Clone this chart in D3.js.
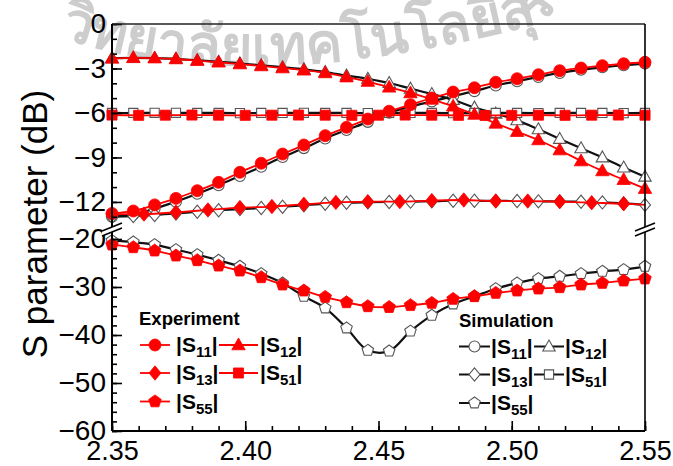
<!DOCTYPE html>
<html>
<head>
<meta charset="utf-8">
<script src="https://cdn.jsdelivr.net/npm/d3@7"></script>
<style>
  body { margin: 0; background: #fff; }
  svg { display: block; }
  text { font-family: "Liberation Sans", Arial, sans-serif; }
</style>
</head>
<body>
<svg id="chart" width="673" height="466"></svg>
<script>
// frequency grids (GHz) the markers sit on
const FREQ8 = d3.range(26).map(i => +(2.35 + i * 0.008).toFixed(3));
const FREQ10 = d3.range(21).map(i => +(2.35 + i * 0.01).toFixed(3));
const FREQ12 = d3.range(17).map(i => +(2.35 + i * 0.012).toFixed(3)).concat([2.55]);

// experiment (dB)
const expS11 = [-12.78, -12.61, -12.20, -11.76, -11.24, -10.68, -10.00, -9.39, -8.77, -8.16, -7.53, -6.97, -6.41,
  -5.88, -5.44, -4.99, -4.59, -4.30, -3.93, -3.69, -3.42, -3.15, -2.97, -2.81, -2.68, -2.58];
const expS12 = [-2.32, -2.28, -2.30, -2.36, -2.47, -2.58, -2.70, -2.83, -2.97, -3.12, -3.30, -3.58, -3.88,
  -4.27, -4.65, -5.08, -5.55, -6.10, -6.70, -7.26, -7.82, -8.50, -9.24, -9.91, -10.50, -11.10];
const expS13 = [-12.80, -12.82, -12.70, -12.54, -12.38, -12.31, -12.16, -12.03, -11.98, -11.98, -11.91, -11.87,
  -11.94, -11.94, -11.98, -12.05, -12.12, -12.20];
const expS51 = [-6.14, -6.16, -6.15, -6.14, -6.15, -6.16, -6.15, -6.14, -6.15, -6.16, -6.15, -6.14, -6.15,
  -6.16, -6.17, -6.16, -6.15, -6.16, -6.15, -6.14, -6.15];
const expS55 = [-21.18, -21.74, -22.43, -23.47, -24.44, -25.56, -26.60, -27.99, -29.51, -30.76, -32.08, -33.20,
  -34.03, -34.20, -33.80, -33.33, -32.50, -31.94, -31.25, -30.76, -30.35, -30.07, -29.51, -29.17, -28.68, -28.26];

// simulation (dB)
const simS11 = [-13.00, -12.85, -12.45, -11.98, -11.45, -10.87, -10.25, -9.63, -8.97, -8.37, -7.72, -7.15, -6.60,
  -5.98, -5.58, -5.22, -4.86, -4.53, -4.15, -3.86, -3.57, -3.30, -3.09, -2.92, -2.78, -2.67];
const simS12 = [-2.30, -2.28, -2.30, -2.35, -2.45, -2.55, -2.66, -2.78, -2.92, -3.06, -3.24, -3.48, -3.70,
  -3.98, -4.36, -4.72, -5.12, -5.64, -6.05, -6.50, -7.10, -7.75, -8.38, -9.00, -9.68, -10.30];
const simS13 = [-13.00, -12.95, -12.88, -12.78, -12.66, -12.56, -12.48, -12.41, -12.32, -12.22, -12.12, -12.05,
  -12.02, -12.00, -11.98, -11.95, -11.92, -11.92, -11.93, -11.94, -11.96, -11.97, -11.99, -12.03, -12.10, -12.20];
const simS51 = [-6.00, -6.00, -5.99, -5.99, -6.00, -6.00, -6.01, -6.00, -6.00, -5.99, -6.00, -6.00, -6.01,
  -6.00, -6.00, -6.00, -6.01, -6.00, -6.00, -6.00, -6.01, -6.00, -6.00, -6.00, -6.01, -6.00];
const simS55 = [-20.35, -20.63, -21.18, -22.22, -23.26, -24.44, -25.69, -27.22, -29.17, -31.94, -34.38, -38.54,
  -43.20, -43.35, -39.20, -35.90, -33.54, -31.94, -30.35, -29.17, -28.26, -27.78, -27.22, -26.74, -26.39, -25.69];

const X_TICKS = [2.35, 2.40, 2.45, 2.50, 2.55];
const Y_TICKS_TOP = [0, -3, -6, -9, -12];
const Y_TICKS_BOTTOM = [-20, -30, -40, -50, -60];

const RED = "#ff0000";

const svg = d3.select("#chart");
const plotLeft = 112, plotRight = 645, plotTop = 24, plotBottom = 431;
const breakY = 229.5;

const x = d3.scaleLinear().domain([2.35, 2.55]).range([plotLeft, plotRight]);
const yTop = d3.scaleLinear().domain([0, -13.69]).range([plotTop, breakY - 2.5]);
const yBot = d3.scaleLinear().domain([-18.54, -60]).range([breakY + 2.5, plotBottom]);

// watermark, set on a shallow arc like the seal text in the scan
svg.append("defs").append("path")
  .attr("id", "wm-arc")
  .attr("d", "M40,30 Q230,105 545,22 L620,-90");
svg.append("text")
  .attr("fill", "#cdcdcd")
  .style("font-size", "55px")
  .style("font-weight", "bold")
  .style("font-family", "'Noto Sans', 'DejaVu Sans', sans-serif")
  .append("textPath")
  .attr("href", "#wm-arc")
  .attr("startOffset", 20)
  .text("วิทยาลัยเทคโนโลยีสุรนารี");

// marker shapes, drawn around 0,0
function shapePath(shape, s) {
  if (shape === "circle") return d3.symbol(d3.symbolCircle, Math.PI * s * s)();
  if (shape === "square") return `M${-s * 0.9},${-s * 0.9}H${s * 0.9}V${s * 0.9}H${-s * 0.9}Z`;
  if (shape === "triangle") return `M0,${-s * 1.1}L${s * 1.05},${s * 0.75}L${-s * 1.05},${s * 0.75}Z`;
  if (shape === "diamond") return `M0,${-s * 1.2}L${s},0L0,${s * 1.2}L${-s},0Z`;
  const pts = d3.range(5).map(k => {
    const a = -Math.PI / 2 + k * 2 * Math.PI / 5;
    return [s * 1.1 * Math.cos(a), s * 1.1 * Math.sin(a)];
  });
  return "M" + pts.join("L") + "Z";
}

const series = [
  { kind: "sim", shape: "circle", seg: "top", freq: FREQ8, values: simS11 },
  { kind: "sim", shape: "triangle", seg: "top", freq: FREQ8, values: simS12 },
  { kind: "sim", shape: "diamond", seg: "top", freq: FREQ8, values: simS13 },
  { kind: "sim", shape: "square", seg: "top", freq: FREQ8, values: simS51 },
  { kind: "sim", shape: "pentagon", seg: "bot", freq: FREQ8, values: simS55 },
  { kind: "exp", shape: "circle", seg: "top", freq: FREQ8, values: expS11 },
  { kind: "exp", shape: "triangle", seg: "top", freq: FREQ8, values: expS12 },
  { kind: "exp", shape: "diamond", seg: "top", freq: FREQ12, values: expS13, marks: 17 },
  { kind: "exp", shape: "square", seg: "top", freq: FREQ10, values: expS51 },
  { kind: "exp", shape: "pentagon", seg: "bot", freq: FREQ8, values: expS55 }
];

const SIZE = { circle: 6, square: 5.6, triangle: 6.4, diamond: 6, pentagon: 6 };

function styleMarker(sel, kind) {
  if (kind === "exp") sel.attr("fill", RED).attr("stroke", RED).attr("stroke-width", 0.8);
  else sel.attr("fill", "#fff").attr("stroke", "#555").attr("stroke-width", 1.1);
}

const plot = svg.append("g");
series.forEach(s => {
  const y = s.seg === "top" ? yTop : yBot;
  const pts = s.freq.map((f, i) => [f, s.values[i]]);
  const line = d3.line().x(d => x(d[0])).y(d => y(d[1])).curve(d3.curveCatmullRom.alpha(0.5));
  const g = plot.append("g");
  g.append("path")
    .attr("d", line(pts))
    .attr("fill", "none")
    .attr("stroke", s.kind === "exp" ? RED : "#111")
    .attr("stroke-width", s.kind === "exp" ? 1.8 : 2.2);
  g.selectAll("path.m")
    .data(pts.slice(0, s.marks || pts.length))
    .join("path")
    .attr("class", "m")
    .attr("transform", d => `translate(${x(d[0])},${y(d[1])})`)
    .attr("d", shapePath(s.shape, s.kind === "sim" ? SIZE[s.shape] - 0.5 : SIZE[s.shape]))
    .call(styleMarker, s.kind);
});

// axes, ticks pointing inward
const axes = svg.append("g");

function styleAxis(g, size) {
  g.select(".domain").remove();
  g.selectAll(".tick line").attr("stroke", "#000").attr("stroke-width", 1.6);
  g.selectAll("text").attr("fill", "#000").style("font-size", size)
    .style("font-family", "'Liberation Sans', Arial, sans-serif");
}

axes.append("g").attr("transform", `translate(0,${plotBottom})`)
  .call(d3.axisBottom(x).tickValues(d3.range(0, 21).map(i => 2.35 + i * 0.01)).tickSize(-5).tickFormat(""))
  .call(styleAxis, "27px");
axes.append("g").attr("transform", `translate(0,${plotBottom})`)
  .call(d3.axisBottom(x).tickValues(X_TICKS).tickSize(-10).tickPadding(10).tickFormat(d3.format(".2f")))
  .call(styleAxis, "27px");

axes.append("g").attr("transform", `translate(${plotLeft},0)`)
  .call(d3.axisLeft(yTop).tickValues(d3.range(0, -14, -1)).tickSize(-5).tickFormat(""))
  .call(styleAxis, "28px");
axes.append("g").attr("transform", `translate(${plotLeft},0)`)
  .call(d3.axisLeft(yTop).tickValues(Y_TICKS_TOP).tickSize(-10).tickPadding(6).tickFormat(d3.format("d")))
  .call(styleAxis, "28px");
axes.append("g").attr("transform", `translate(${plotLeft},0)`)
  .call(d3.axisLeft(yBot).tickValues(d3.range(-20, -61, -2)).tickSize(-5).tickFormat(""))
  .call(styleAxis, "28px");
axes.append("g").attr("transform", `translate(${plotLeft},0)`)
  .call(d3.axisLeft(yBot).tickValues(Y_TICKS_BOTTOM).tickSize(-10).tickPadding(6).tickFormat(d3.format("d")))
  .call(styleAxis, "28px");

// frame, broken at the gap on both sides
const frame = axes.append("g").attr("fill", "none");
frame.append("path").attr("d", `M${plotLeft},${plotTop}H${plotRight}`).attr("stroke", "#222").attr("stroke-width", 1.6);
frame.append("path").attr("d", `M${plotLeft},${plotBottom}H${plotRight}`).attr("stroke", "#000").attr("stroke-width", 2);
[plotLeft, plotRight].forEach(xx => {
  frame.append("path")
    .attr("d", `M${xx},${plotTop}V${yTop.range()[1]}M${xx},${yBot.range()[0]}V${plotBottom}`)
    .attr("stroke", "#000").attr("stroke-width", xx === plotLeft ? 2 : 1.6);
  frame.append("path")
    .attr("d", `M${xx - 10},${breakY + 1.5}L${xx + 10},${breakY - 6.5}L${xx + 10},${breakY - 1.5}L${xx - 10},${breakY + 6.5}Z`)
    .attr("fill", "#fff");
  frame.append("path")
    .attr("d", `M${xx - 10},${breakY + 1.5}L${xx + 10},${breakY - 6.5}M${xx - 10},${breakY + 6.5}L${xx + 10},${breakY - 1.5}`)
    .attr("stroke", "#000").attr("stroke-width", 1.5);
});

// axis title
svg.append("text")
  .attr("transform", "translate(47,224) rotate(-90)")
  .attr("text-anchor", "middle")
  .style("font-size", "35px")
  .text("S parameter (dB)");

// legends
function legendLabel(g, lx, ly, sub) {
  const t = g.append("text").attr("x", lx).attr("y", ly + 7).style("font-weight", "bold").style("font-size", "21px");
  t.append("tspan").text("|S");
  t.append("tspan").attr("dy", 5).style("font-size", "15px").text(sub);
  t.append("tspan").attr("dy", -5).text("|");
}

function legendItem(g, kind, shape, x0, x1, ly) {
  g.append("path")
    .attr("d", `M${x0},${ly}H${x1}`)
    .attr("stroke", kind === "exp" ? RED : "#111")
    .attr("stroke-width", kind === "exp" ? 1.8 : 2);
  g.append("path")
    .attr("transform", `translate(${(x0 + x1) / 2},${ly})`)
    .attr("d", shapePath(shape, kind === "exp" ? SIZE[shape] : SIZE[shape] - 0.5))
    .call(styleMarker, kind);
}

const LEG_ITEMS = [
  { shape: "circle", sub: "11", row: 0, col: 0 },
  { shape: "triangle", sub: "12", row: 0, col: 1 },
  { shape: "diamond", sub: "13", row: 1, col: 0 },
  { shape: "square", sub: "51", row: 1, col: 1 },
  { shape: "pentagon", sub: "55", row: 2, col: 0 }
];
const rowsY = [345, 373, 401.5];

const legExp = svg.append("g");
legExp.append("text").attr("x", 139).attr("y", 325)
  .style("font-weight", "bold").style("font-size", "18.5px").text("Experiment");
LEG_ITEMS.forEach(d => {
  const x0 = d.col === 0 ? 140 : 219;
  const x1 = d.col === 0 ? 170 : 258;
  legendItem(legExp, "exp", d.shape, x0, x1, rowsY[d.row]);
  legendLabel(legExp, d.col === 0 ? 176 : 260, rowsY[d.row], d.sub);
});

const legSim = svg.append("g");
legSim.append("text").attr("x", 459).attr("y", 327)
  .style("font-weight", "bold").style("font-size", "18.5px").text("Simulation");
LEG_ITEMS.forEach(d => {
  const x0 = d.col === 0 ? 459 : 534;
  const x1 = d.col === 0 ? 490 : 564;
  legendItem(legSim, "sim", d.shape, x0, x1, rowsY[d.row] + 1.5);
  legendLabel(legSim, d.col === 0 ? 491 : 565, rowsY[d.row] + 1.5, d.sub);
});
</script>
</body>
</html>
